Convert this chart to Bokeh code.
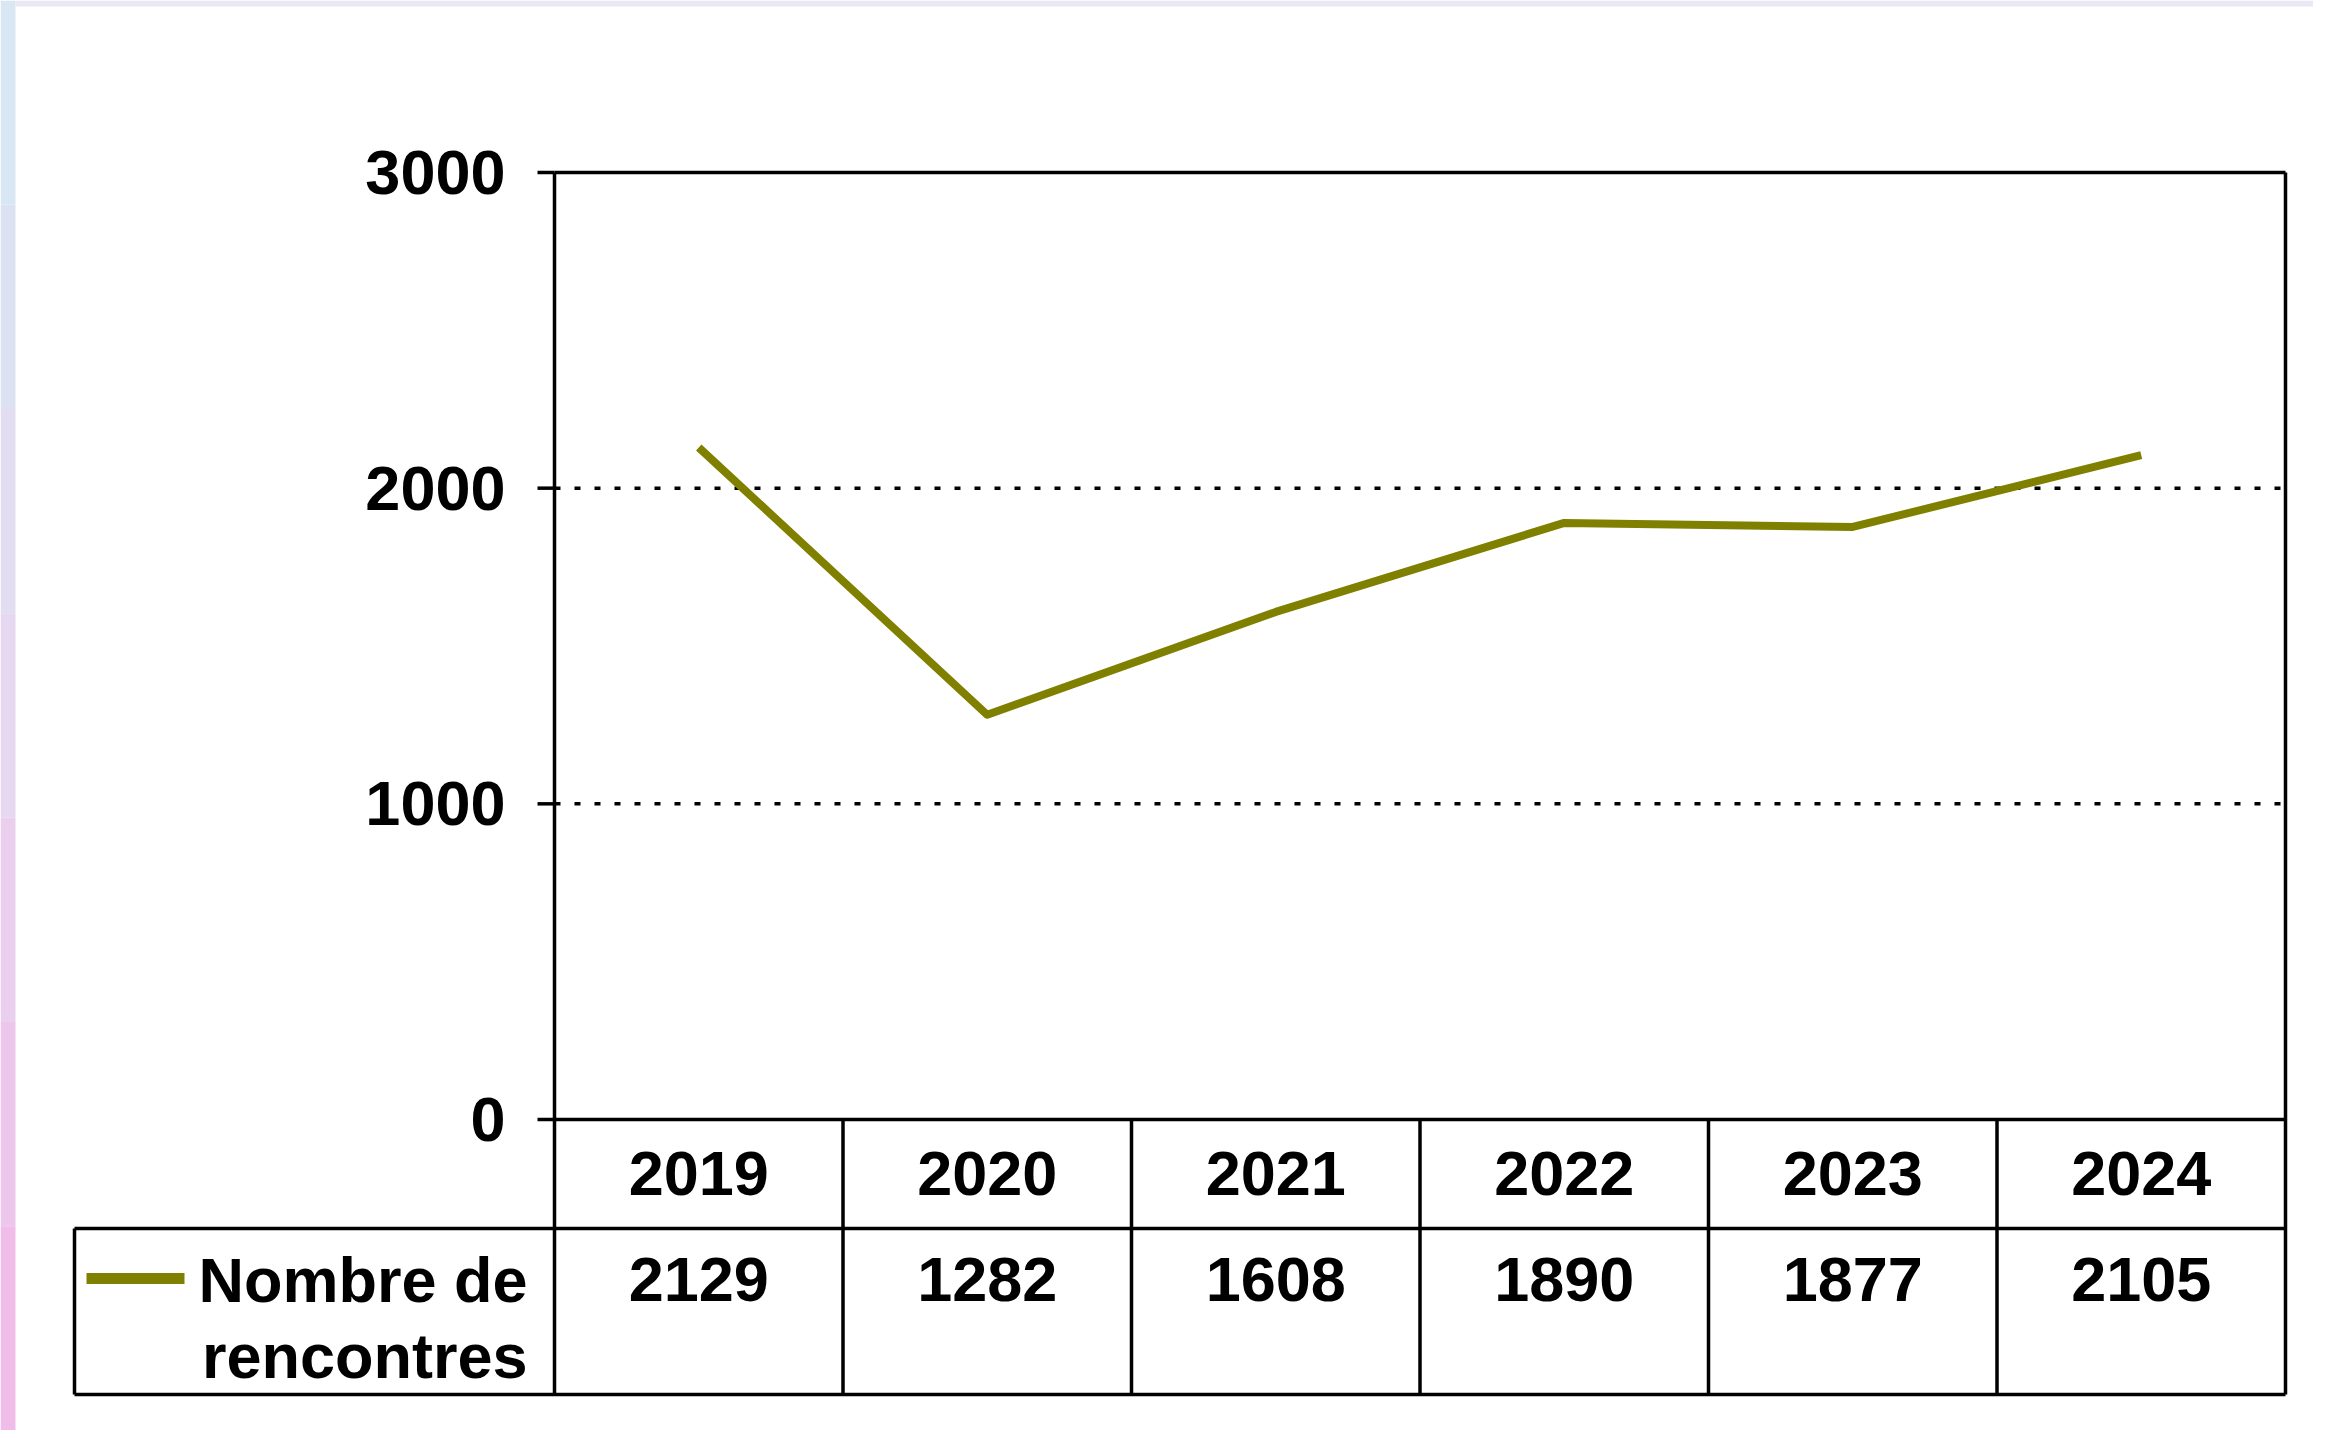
from bokeh.plotting import figure
from bokeh.models import Range1d
from bokeh.core.properties import value
from bokeh.embed import file_html
from bokeh.resources import INLINE

# ---------------- data ----------------
years = ["2019", "2020", "2021", "2022", "2023", "2024"]
rencontres = [2129, 1282, 1608, 1890, 1877, 2105]
y_ticks = [0, 1000, 2000, 3000]
grid_values = [1000, 2000]
series_label = ["Nombre de", "rencontres"]

# ---------------- layout (figure pixels) ----------------
W, H = 2313, 1430
PX_LEFT = 554.0          # left edge of the plot area (category 0)
COL_W = 288.5            # width of one category column
PX_TOP = 172.0           # y pixel of value 3000
PX_ZERO = 1119.0         # y pixel of value 0
Y_MAX = 3000.0
PPU = (PX_ZERO - PX_TOP) / Y_MAX

x_start = -PX_LEFT / COL_W
x_end = (W - PX_LEFT) / COL_W
y_end = Y_MAX + PX_TOP / PPU
y_start = -(H - PX_ZERO) / PPU


def dx(px):
    return x_start + px / COL_W


def dy(py):
    return y_end - py / PPU


n = len(years)
X0, X1 = 0.0, float(n)
ROW1_BOTTOM = dy(1228)
TABLE_BOTTOM = dy(1394)
LEG_LEFT = dx(74)

FONT = value("Liberation Sans")
FS = "63px"
OLIVE = "#808000"
LW = 3.5

p = figure(width=W, height=H, output_backend="svg", toolbar_location=None,
           x_range=Range1d(x_start, x_end), y_range=Range1d(y_start, y_end),
           min_border=0, outline_line_color=None)
p.axis.visible = False
p.grid.visible = False
p.background_fill_color = "white"
p.border_fill_color = "white"

# soft gradient strip on the left edge
strip_colors = ["#d9e6f3", "#dde2f2", "#e2ddf1", "#e6d8f0", "#eacfee", "#edc6ec", "#f0bdeb"]
seg = (y_end - y_start) / len(strip_colors)
p.quad(left=[x_start] * len(strip_colors), right=[dx(15)] * len(strip_colors),
       top=[y_end - i * seg for i in range(len(strip_colors))],
       bottom=[y_end - (i + 1) * seg for i in range(len(strip_colors))],
       fill_color=strip_colors, line_color=None)
# top strip
p.quad(left=[dx(15)], right=[x_end], top=[y_end], bottom=[dy(6)],
       fill_color="#ebe8f5", line_color=None)

# dotted gridlines
p.segment(x0=[X0] * len(grid_values), x1=[X1] * len(grid_values), y0=grid_values, y1=grid_values,
          line_color="black", line_width=LW, line_dash="6 14")

# frame: top, bottom(0), right, left
p.segment(x0=[X0, X0], x1=[X1, X1], y0=[Y_MAX, 0], y1=[Y_MAX, 0], line_color="black", line_width=LW)
p.segment(x0=[X1, X0], x1=[X1, X0], y0=[Y_MAX, Y_MAX], y1=[TABLE_BOTTOM, TABLE_BOTTOM],
          line_color="black", line_width=LW)

# y ticks and labels
p.segment(x0=[dx(537)] * len(y_ticks), x1=[X0] * len(y_ticks), y0=y_ticks, y1=y_ticks,
          line_color="black", line_width=LW)
p.text(x=[dx(505)] * len(y_ticks), y=y_ticks, text=[str(t) for t in y_ticks],
       text_font=FONT, text_font_size=FS, text_font_style="bold",
       text_align="right", text_baseline="middle", text_color="black")

# data line
centers = [i + 0.5 for i in range(n)]
p.line(x=centers, y=rencontres, line_color=OLIVE, line_width=8, line_join="round")

# table
p.segment(x0=[LEG_LEFT, LEG_LEFT], x1=[X1, X1], y0=[ROW1_BOTTOM, TABLE_BOTTOM],
          y1=[ROW1_BOTTOM, TABLE_BOTTOM], line_color="black", line_width=LW)
p.segment(x0=[LEG_LEFT], x1=[LEG_LEFT], y0=[ROW1_BOTTOM], y1=[TABLE_BOTTOM],
          line_color="black", line_width=LW)
p.segment(x0=list(range(1, n)), x1=list(range(1, n)), y0=[0] * (n - 1), y1=[TABLE_BOTTOM] * (n - 1),
          line_color="black", line_width=LW)

p.text(x=centers, y=[dy(1173)] * n, text=years, text_font=FONT, text_font_size=FS,
       text_font_style="bold", text_align="center", text_baseline="middle", text_color="black")
p.text(x=centers, y=[dy(1279)] * n, text=[str(v) for v in rencontres], text_font=FONT,
       text_font_size=FS, text_font_style="bold", text_align="center", text_baseline="middle",
       text_color="black")

# legend cell
p.segment(x0=[dx(86)], x1=[dx(184)], y0=[dy(1278)], y1=[dy(1278)], line_color=OLIVE, line_width=11)
p.text(x=[dx(527), dx(527)], y=[dy(1279), dy(1355)], text=series_label, text_font=FONT,
       text_font_size=FS, text_font_style="bold", text_align="right", text_baseline="middle",
       text_color="black")

open("out.html", "w").write(file_html(p, INLINE))
